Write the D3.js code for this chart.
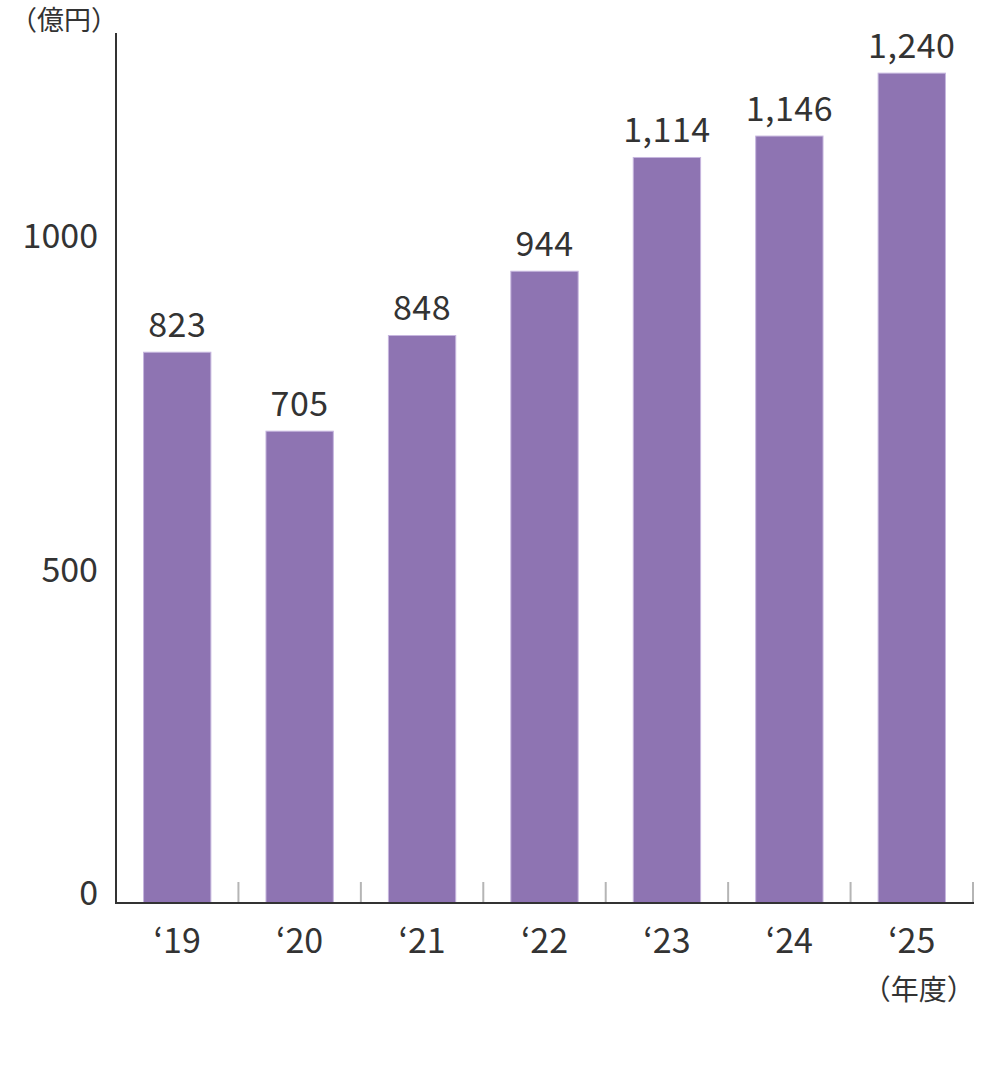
<!DOCTYPE html>
<html>
<head>
<meta charset="utf-8">
<script src="https://cdn.jsdelivr.net/npm/d3@7"></script>
<style>
  body { margin: 0; background: #fff; }
  text { font-family: "Noto Sans CJK JP", "Noto Sans", sans-serif; fill: #333; }
</style>
</head>
<body>
<svg id="chart"></svg>
<script>
const years = ['‘19', '‘20', '‘21', '‘22', '‘23', '‘24', '‘25'];
const sales = [823, 705, 848, 944, 1114, 1146, 1240];
const yTicks = [0, 500, 1000];
const yUnit = '（億円）';
const xUnit = '（年度）';

class BarChart {
    constructor (config, data) {
        this.config = {
            parent: config.parent,
            width: config.width || 256,
            height: config.height || 256,
            margin: config.margin || {top:10, right:10, bottom:10, left:10}
        };
        this.data = data;
        this.init();
    }

    init() {
        let self = this;

        self.svg = d3.select( self.config.parent )
            .attr('width', self.config.width)
            .attr('height', self.config.height);

        self.chart = self.svg.append('g')
            .attr('transform', `translate(${self.config.margin.left}, ${self.config.margin.top})`);

        self.inner_width = self.config.width - self.config.margin.left - self.config.margin.right;
        self.inner_height = self.config.height - self.config.margin.top - self.config.margin.bottom;

        self.xscale = d3.scaleBand()
            .domain(self.data.map(d => d.label))
            .range([0, self.inner_width])
            .paddingInner(0.45)
            .paddingOuter(0.225);

        self.yscale = d3.scaleLinear()
            .domain([0, 1300])
            .range([self.inner_height, 0]);
    }

    render() {
        let self = this;
        const x = self.xscale, y = self.yscale;
        const step = x.step();

        // 区切りの目盛り
        self.chart.selectAll('.sep')
            .data(self.data)
            .join('line')
            .attr('x1', d => x(d.label) - step * 0.225 + step)
            .attr('x2', d => x(d.label) - step * 0.225 + step)
            .attr('y1', self.inner_height - 21)
            .attr('y2', self.inner_height)
            .attr('stroke', '#b5b5b5')
            .attr('stroke-width', 2);

        self.chart.selectAll('rect')
            .data(self.data)
            .join('rect')
            .attr('x', d => x(d.label))
            .attr('y', d => y(d.value))
            .attr('width', x.bandwidth())
            .attr('height', d => self.inner_height - y(d.value))
            .attr('fill', '#8e74b2')
            .attr('stroke', '#c6b6de')
            .attr('stroke-width', 1);

        // 値ラベル
        self.chart.selectAll('.val')
            .data(self.data)
            .join('text')
            .attr('class', 'val')
            .attr('x', d => x(d.label) + x.bandwidth() / 2)
            .attr('y', d => y(d.value) - 15)
            .attr('text-anchor', 'middle')
            .style('font-size', '34px')
            .style('letter-spacing', '0.5px')
            .text(d => d3.format(',')(d.value));

        // x軸
        self.chart.append('line')
            .attr('x1', 0).attr('x2', self.inner_width + 1)
            .attr('y1', self.inner_height).attr('y2', self.inner_height)
            .attr('stroke', '#333').attr('stroke-width', 2);

        self.chart.selectAll('.xl')
            .data(self.data)
            .join('text')
            .attr('class', 'xl')
            .attr('x', d => x(d.label) + x.bandwidth() / 2)
            .attr('y', self.inner_height + 50)
            .attr('text-anchor', 'middle')
            .style('font-size', '34px')
            .text(d => d.label);

        // y軸
        self.chart.append('line')
            .attr('x1', 0).attr('x2', 0)
            .attr('y1', 0).attr('y2', self.inner_height + 1)
            .attr('stroke', '#333').attr('stroke-width', 2);

        self.chart.selectAll('.yl')
            .data(yTicks)
            .join('text')
            .attr('class', 'yl')
            .attr('x', -18)
            .attr('y', d => d === 0 ? y(d) - 10 : y(d) + 2)
            .attr('dy', '0.35em')
            .attr('text-anchor', 'end')
            .style('font-size', '34px')
            .text(d => d);

        self.svg.append('text')
            .attr('x', 10).attr('y', 30)
            .style('font-size', '27px')
            .text(yUnit);

        self.svg.append('text')
            .attr('x', self.config.margin.left + x(years[years.length - 1]) + x.bandwidth() / 2 + 7)
            .attr('y', self.config.margin.top + self.inner_height + 97)
            .attr('text-anchor', 'middle')
            .style('font-size', '28px')
            .text(xUnit);
    }
}

const data = years.map((label, i) => ({label: label, value: sales[i]}));
const chart = new BarChart({
    parent: '#chart',
    width: 987,
    height: 1073,
    margin: {top: 33, right: 14, bottom: 170, left: 116}
}, data);
chart.render();
</script>
</body>
</html>
